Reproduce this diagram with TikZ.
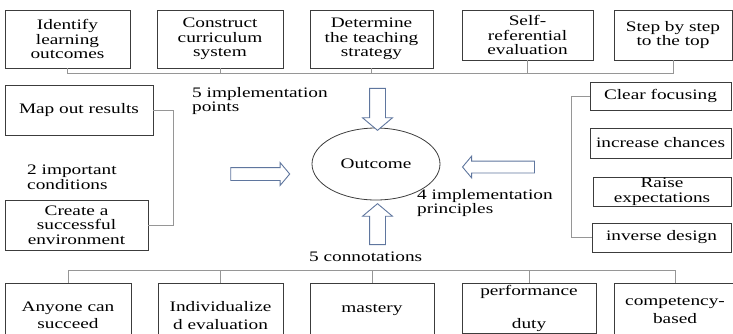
\documentclass[tikz,border=0pt]{standalone}
\usepackage{fontspec}
\setmainfont{Liberation Serif}[FakeStretch=1.33]
\usetikzlibrary{shapes.geometric, shapes.arrows}
\definecolor{framegray}{RGB}{60,60,60}
\definecolor{busgray}{RGB}{150,150,150}
\definecolor{arrowblue}{RGB}{95,118,158}
\newcommand{\boxfont}{\fontsize{14.5}{14.7}\selectfont}
\newcommand{\tallfont}{\fontsize{14.5}{17.5}\selectfont}

\begin{document}
\begin{tikzpicture}[x=1pt, y=-1pt,
  card/.style={draw=framegray, line width=0.9pt, inner sep=0pt, align=center, font=\boxfont},
  tallcard/.style={card, anchor=north, font=\tallfont},
  bus/.style={draw=busgray, line width=0.8pt},
  blockarrow/.style={single arrow, draw=arrowblue, line width=0.9pt, fill=white, inner xsep=0pt,
    single arrow tip angle=100, single arrow head indent=0pt},
  lbl/.style={inner sep=0pt, align=left, font=\boxfont}]
\useasboundingbox (0,0) rectangle (733,333);
\clip (0,0) rectangle (733,333);

\node[card, minimum width=125pt, minimum height=58pt] (b1) at (67.5,39) {Identify\\learning\\outcomes};
\node[card, minimum width=126pt, minimum height=58pt] (b2) at (220,39) {Construct\\curriculum\\system};
\node[card, minimum width=123pt, minimum height=58pt] (b3) at (371.5,39) {Determine\\the teaching\\strategy};
\node[card, minimum width=131pt, minimum height=50pt] (b4) at (527.5,35) {Self-\\referential\\evaluation};
\node[card, minimum width=118pt, minimum height=50pt] (b5) at (673,35) {Step by step\\to the top};
\coordinate (topbus) at (0,73);
\draw[bus] (b1.south) |- (b5.south |- topbus) -- (b5.south);
\foreach \n in {b2,b3,b4} \draw[bus] (\n.south) -- (\n.south |- topbus);

\node[card, minimum width=148pt, minimum height=50pt] (m1) at (79,110) {Map out results};
\node[card, minimum width=143pt, minimum height=50pt] (m2) at (76.5,225) {Create a\\successful\\environment};
\coordinate (leftbr) at (173,0);
\draw[bus] (m1.east) -- (m1.east -| leftbr) |- (m2.east);
\node[lbl, anchor=west] (cond) at (27,177) {2 important\\conditions};
\node[lbl, anchor=north west] (pts) at (192,87) {5 implementation\\points};

\node[draw=framegray, line width=0.8pt, ellipse, minimum width=128pt, minimum height=72pt,
  inner sep=0pt, font=\boxfont] (out) at (376,164) {Outcome};
\node[blockarrow, inner ysep=7.5pt, single arrow head extend=7pt, minimum height=42pt, rotate=-90] (arrtop) at (377.5,106) {};
\node[blockarrow, inner ysep=6pt, single arrow head extend=5pt, minimum height=59pt] (arrleft) at (257.5,174) {};
\node[blockarrow, inner ysep=5.5pt, single arrow head extend=5pt, minimum height=72pt, rotate=180] (arrright) at (501,167) {};
\node[blockarrow, inner ysep=7.5pt, single arrow head extend=7pt, minimum height=41pt, rotate=90] (arrbot) at (377.5,227.5) {};

\node[card, minimum width=141pt, minimum height=28pt] (r1) at (660.5,96) {Clear focusing};
\node[card, minimum width=141pt, minimum height=30pt] (r2) at (660.5,143) {increase chances};
\node[card, minimum width=138pt, minimum height=29pt] (r3) at (662,191.5) {Raise\\expectations};
\node[card, minimum width=139pt, minimum height=29pt] (r4) at (661.5,237.5) {inverse design};
\coordinate (rightbr) at (571,0);
\draw[bus] (r1.west) -- (r1.west -| rightbr) -- (r4.west -| rightbr) -- (r4.west);
\node[lbl, anchor=north west] (princ) at (417,189) {4 implementation\\principles};

\node[lbl, anchor=west] (conn) at (309,257) {5 connotations};
\coordinate (botbus) at (0,270);
\node[tallcard, minimum width=126pt, minimum height=64pt] (c1) at (68,283) {Anyone can\\succeed};
\node[tallcard, minimum width=125pt, minimum height=64pt] (c2) at (220.5,283) {Individualize\\d evaluation};
\node[tallcard, minimum width=124pt, minimum height=54pt] (c3) at (372,283) {mastery};
\node[tallcard, minimum width=134pt, minimum height=50pt] (c4) at (529,283) {performance\\[15pt]duty};
\node[tallcard, minimum width=122pt, minimum height=54pt] (c5) at (675,283) {competency-\\based};
\draw[bus] (c1.north) |- (c5.north |- botbus) -- (c5.north);
\foreach \n in {c2,c3,c4} \draw[bus] (\n.north) -- (\n.north |- botbus);
\end{tikzpicture}
\end{document}
